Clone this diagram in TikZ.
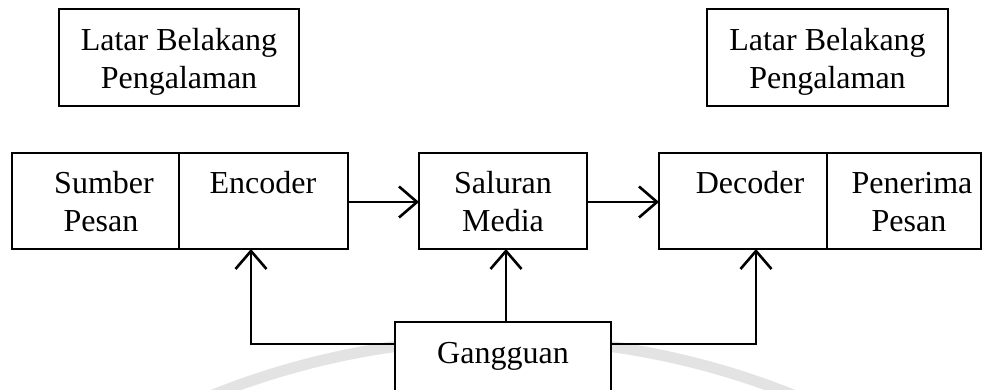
\documentclass[tikz,border=0pt]{standalone}
\usepackage{fontspec}
\setmainfont{Liberation Serif}
\usetikzlibrary{arrows.meta}
\tikzset{
  box/.style={draw=black, line width=1.3pt, fill=white, rectangle, inner sep=0pt, outer sep=0pt, minimum height=96pt},
  txt/.style={inner sep=0pt, outer sep=0pt, anchor=base, font=\fontsize{32}{38}\selectfont},
  arr/.style={line width=2.6pt, -{Straight Barb[length=18pt, width=31pt, line width=2.6pt]}},
  wmark/.style={draw=black!11, line width=11pt}
}
\begin{document}
\begin{tikzpicture}[x=1pt, y=-1pt]
\useasboundingbox (0,0) rectangle (986,389);
\clip (0,0) rectangle (986,389);
% faint watermark arc
\draw[wmark] (503,1119) ++(247:780) arc (247:293:780);
% top boxes
\node[box, minimum width=240pt, minimum height=97pt] (lbl) at (179,57.5) {};
\node[txt] (lbl1) at (179,50) {Latar Belakang};
\node[txt] (lbl2) at (179,88) {Pengalaman};
\node[box, minimum width=241pt, minimum height=97pt] (lbr) at (827.5,57.5) {};
\node[txt] (lbr1) at (827.5,50) {Latar Belakang};
\node[txt] (lbr2) at (827.5,88) {Pengalaman};
% main row
\node[box, minimum width=167pt] (src) at (95.5,201) {};
\node[box, minimum width=169pt] (enc) at (263.5,201) {};
\node[box, minimum width=168pt] (med) at (503,201) {};
\node[box, minimum width=168pt] (dec) at (743,201) {};
\node[box, minimum width=154pt] (rec) at (904,201) {};
\node[txt] (src1) at (104,193) {Sumber};
\node[txt] (src2) at (101,231) {Pesan};
\node[txt] (enc1) at (263,193) {Encoder};
\node[txt] (med1) at (503,193) {Saluran};
\node[txt] (med2) at (503,231) {Media};
\node[txt] (dec1) at (750,193) {Decoder};
\node[txt] (rec1) at (912,193) {Penerima};
\node[txt] (rec2) at (909,231) {Pesan};
% noise box
\node[box, minimum width=216pt, minimum height=100pt, anchor=north] (gang) at (503,322) {};
\node[txt] (gang1) at (503,363) {Gangguan};
% connectors
\draw[arr] ([yshift=-1pt]enc.east) -- ([yshift=-1pt]med.west);
\draw[arr] ([yshift=-1pt]med.east) -- ([yshift=-1pt]dec.west);
\draw[arr] ([xshift=3pt]gang.north) -- ([xshift=3pt]med.south);
\draw[arr] ([yshift=-22pt]gang.north west) -| ([xshift=-12.5pt]enc.south);
\draw[arr] ([yshift=-22pt]gang.north east) -| ([xshift=13pt]dec.south);
\end{tikzpicture}
\end{document}
